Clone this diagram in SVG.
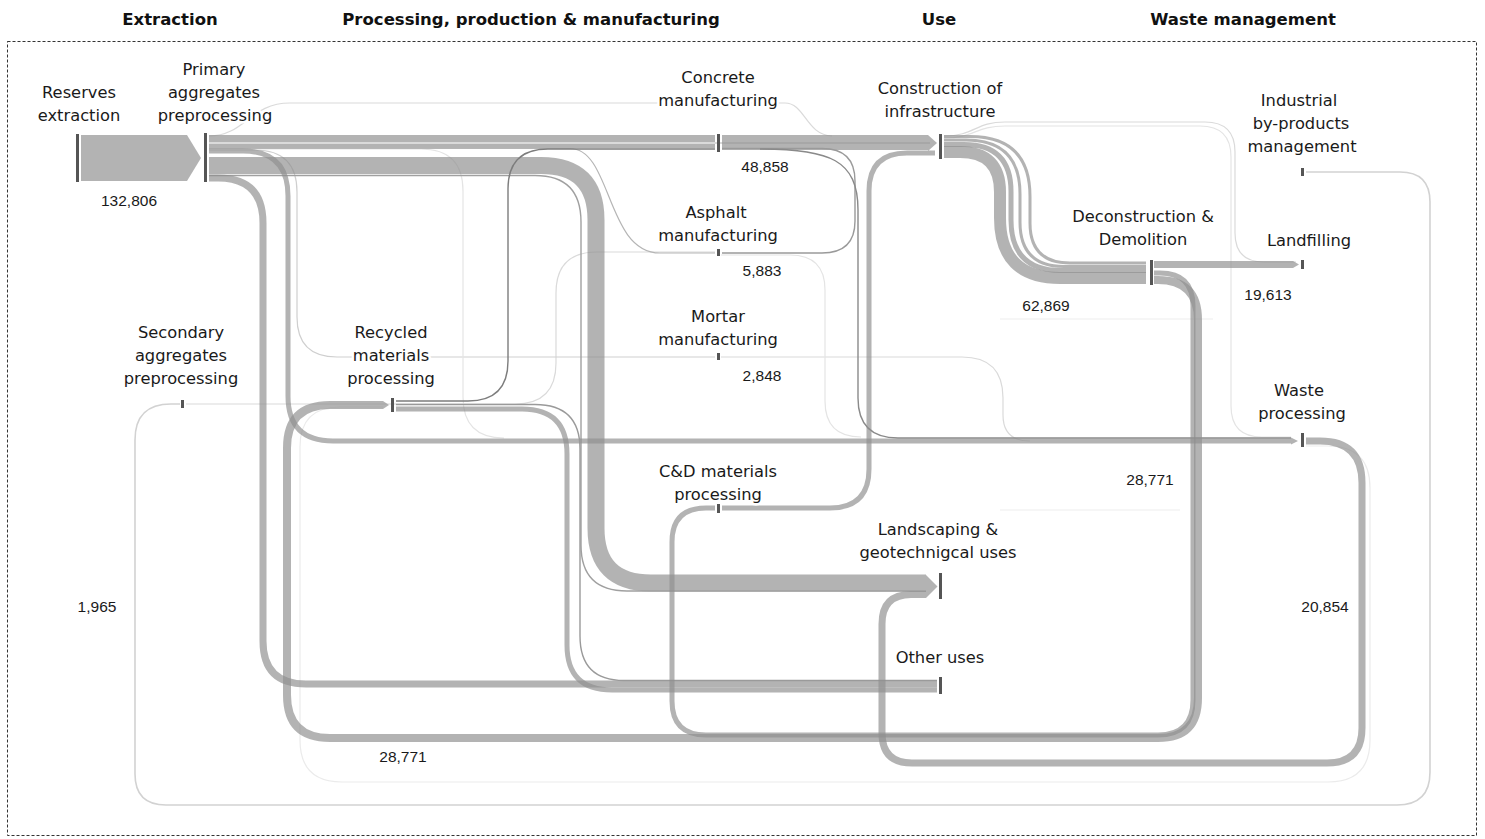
<svg xmlns="http://www.w3.org/2000/svg" width="1485" height="839" viewBox="0 0 1485 839">
<style>
.band{fill:none;stroke:#8f8f8f;stroke-opacity:0.68;stroke-linecap:butt}
.tip{fill:#8f8f8f;fill-opacity:0.68}
.thin{fill:none;stroke:#8c8c8c;stroke-width:1.4}
.mid{fill:none;stroke:#b5b5b5;stroke-width:1.2}
.faint{fill:none;stroke:#dadada;stroke-width:1.2}
.bar{fill:#555}
.lbl{font-family:"DejaVu Sans",Verdana,sans-serif;font-size:16.3px;fill:#1a1a1a;text-anchor:middle;stroke:#fff;stroke-width:5;stroke-linejoin:round;paint-order:stroke}
.num{font-family:"Liberation Sans",Arial,sans-serif;font-size:15.5px;fill:#1a1a1a;text-anchor:middle;stroke:#fff;stroke-width:3;paint-order:stroke}
.hdr{font-family:"DejaVu Sans",Verdana,sans-serif;font-weight:bold;font-size:16.5px;fill:#111;text-anchor:middle}
</style>
<rect width="1485" height="839" fill="#fff"/>
<g id="headers">
<text class="hdr" x="170" y="25">Extraction</text>
<text class="hdr" x="531" y="25">Processing, production &amp; manufacturing</text>
<text class="hdr" x="939" y="25">Use</text>
<text class="hdr" x="1243" y="25">Waste management</text>
</g>
<rect id="frame" x="7.5" y="41.5" width="1469" height="794" fill="none" stroke="#333" stroke-width="1" stroke-dasharray="3,2"/>
<g id="connectors">
<!-- faint flows -->
<path class="faint" d="M1306,172 H1400 Q1430,172 1430,202 V772 Q1430,805 1397,805 H166 Q135,805 135,774 V440 Q135,404 171,404 H180" style="stroke:#d2d2d2;stroke-width:1.6"/>
<path class="faint" d="M209,136 C245,136 250,103 290,103 H785 C805,103 806,135 832,136"/>
<path class="faint" d="M944,136 C975,136 975,122 1005,122 H1205 Q1235,122 1235,152 V233 Q1235,262 1264,262 H1296"/>
<path class="faint" d="M944,138 C975,138 975,126 1005,126 H1200 Q1231,126 1231,157 V406 Q1231,437 1262,437 H1291" style="stroke:#e4e4e4"/>
<path class="faint" d="M1306,446 H1328 Q1370,446 1370,488 V740 Q1370,782 1328,782 H342 Q300,782 300,740 V447 Q300,407 340,407 H383" style="stroke:#ebebeb"/>
<path class="faint" d="M186,404 H515 Q556,404 556,363 V293 Q556,252 597,252 H715"/>
<path class="faint" d="M209,150 H255 Q297,150 297,192 V317 Q297,357 337,357 H715" style="stroke:#cfcfcf"/>
<path class="faint" d="M721,357 H962 Q1003,357 1003,398 V415 Q1003,441 1030,441"/>
<path class="faint" d="M721,255 H790 Q825,255 825,290 V401 Q825,437 861,437" style="stroke:#e4e4e4"/>
<path class="faint" d="M209,149 H421 Q463,149 463,191 V397 Q463,438 504,438" style="stroke:#e4e4e4"/>
<path class="faint" d="M1000,319 H1213" style="stroke:#ededed"/>
<path class="faint" d="M1000,510 H1180" style="stroke:#ededed"/>
<!-- main flows -->
<polygon class="tip" points="81,135 187,135 201,158 187,181 81,181"/>
<path class="band" stroke-width="7" d="M209,138.5 H715"/>
<path class="band" stroke-width="4" d="M209,146 H715"/>
<path class="mid" d="M209,143 H930"/>
<path class="mid" d="M209,148.5 H570 C612,148.5 606,253 660,253 H715"/>
<path class="band" stroke-width="15" d="M722,142.5 H928"/>
<polygon class="tip" points="928,135 937,143 928,151"/>
<path class="band" stroke-width="17" d="M209,165.5 H541 Q596,165.5 596,220 V528 Q596,583 651,583 H926"/>
<path class="thin" stroke-width="1.5" d="M209,175.5 H535 Q581,175.5 581,222 V545 Q581,591 627,591 H926" style="stroke:#a0a0a0"/>
<path class="band" stroke-width="5" d="M209,151 H243 Q288,151 288,196 V396 Q288,441 333,441 H1291"/>
<polygon class="tip" points="1291,437.5 1298,441 1291,444.5"/>
<path class="band" stroke-width="7" d="M209,178 H218 Q263,178 263,223 V641 Q263,684 306,684 H937"/>
<path class="thin" d="M396,401 H468 Q508,401 508,361 V189 Q508,149 548,149 H715" style="stroke:#7d7d7d"/>
<path class="band" stroke-width="5" d="M396,409 H522 Q567,409 567,454 V645 Q567,690 612,690 H937"/>
<path class="thin" stroke-width="1.5" d="M396,404.5 H535 Q580,404.5 580,449 V636 Q580,680.5 624,680.5 H937" style="stroke:#9a9a9a"/>
<path class="thin" d="M722,148.5 H822 Q855,148.5 855,181 V221 Q855,253 822,253 H722" style="stroke:#9a9a9a"/>
<path class="thin" stroke-width="2" d="M760,149 C830,149 858,160 858,210 V398 Q858,438 898,438 H1291" style="stroke:#8a8a8a"/>
<path class="band" stroke-width="5" d="M722,508 H830 Q869,508 869,469 V191 Q869,153 907,153 H935"/>
<path class="band" stroke-width="3" d="M944,136.5 H970 Q1030,136.5 1030,196.5 V223 Q1030,263 1070,263 H1146"/>
<path class="band" stroke-width="3" d="M944,140 H966 Q1020,140 1020,194 V222 Q1020,266.5 1064,266.5 H1146"/>
<path class="band" stroke-width="5" d="M944,144.5 H964 Q1011,144.5 1011,191.5 V220 Q1011,270.5 1061,270.5 H1146"/>
<path class="band" stroke-width="12" d="M944,152 H960 Q1000,152 1000,192 V218 Q1000,278 1060,278 H1146"/>
<path class="band" stroke-width="7" d="M1154,264.5 H1293"/>
<polygon class="tip" points="1293,261 1299,264.5 1293,268"/>
<path class="band" stroke-width="5" d="M1154,273 H1160 Q1193,273 1193,306 V700 Q1193,735 1158,735 H706 Q672,735 672,701 V542 Q672,508 706,508 H715"/>
<path class="band" stroke-width="8" d="M1154,280 H1158 Q1198,280 1198,320 V698 Q1198,738 1158,738 H330 Q287,738 287,695 V448 Q287,405 330,405 H383"/>
<polygon class="tip" points="383,401 389,405 383,409"/>
<path class="band" stroke-width="7" d="M1306,441 H1320 Q1362,441 1362,483 V728 Q1362,763 1327,763 H912 Q882,763 882,733 V624 Q882,594.5 911,594.5 H926"/>
<polygon class="tip" points="926,575 937.5,586.5 926,598"/>
</g>
<g id="node-reserves"><rect class="bar" x="76" y="134" width="3" height="48"/><text class="lbl" x="79" y="98">Reserves</text><text class="lbl" x="79" y="121">extraction</text><text class="num" x="129" y="206">132,806</text></g>
<g id="node-primary"><rect class="bar" x="204" y="133" width="3" height="49"/><text class="lbl" x="214" y="75">Primary</text><text class="lbl" x="214" y="98">aggregates</text><text class="lbl" x="215" y="121">preprocessing</text></g>
<g id="node-concrete"><rect class="bar" x="717" y="134" width="3" height="18"/><text class="lbl" x="718" y="83">Concrete</text><text class="lbl" x="718" y="106">manufacturing</text><text class="num" x="765" y="172">48,858</text></g>
<g id="node-asphalt"><rect class="bar" x="717" y="249" width="3" height="7"/><text class="lbl" x="716" y="218">Asphalt</text><text class="lbl" x="718" y="241">manufacturing</text><text class="num" x="762" y="276">5,883</text></g>
<g id="node-mortar"><rect class="bar" x="717" y="353" width="3" height="7"/><text class="lbl" x="718" y="322">Mortar</text><text class="lbl" x="718" y="345">manufacturing</text><text class="num" x="762" y="381">2,848</text></g>
<g id="node-cd"><rect class="bar" x="717" y="504" width="3" height="9"/><text class="lbl" x="718" y="477">C&amp;D materials</text><text class="lbl" x="718" y="500">processing</text></g>
<g id="node-construction"><rect class="bar" x="939" y="134" width="3" height="25"/><text class="lbl" x="940" y="94">Construction of</text><text class="lbl" x="940" y="117">infrastructure</text></g>
<g id="node-landscaping"><rect class="bar" x="939" y="573" width="3" height="26"/><text class="lbl" x="938" y="535">Landscaping &amp;</text><text class="lbl" x="938" y="558">geotechnigcal uses</text></g>
<g id="node-other"><rect class="bar" x="939" y="677" width="3" height="17"/><text class="lbl" x="940" y="663">Other uses</text></g>
<g id="node-deconstruction"><rect class="bar" x="1150" y="260" width="3" height="25"/><text class="lbl" x="1143" y="222">Deconstruction &amp;</text><text class="lbl" x="1143" y="245">Demolition</text><text class="num" x="1046" y="311">62,869</text></g>
<g id="node-industrial"><rect class="bar" x="1301" y="168" width="3" height="8"/><text class="lbl" x="1299" y="106">Industrial</text><text class="lbl" x="1301" y="129">by-products</text><text class="lbl" x="1302" y="152">management</text></g>
<g id="node-landfilling"><rect class="bar" x="1301" y="260" width="3" height="9"/><text class="lbl" x="1309" y="246">Landfilling</text><text class="num" x="1268" y="300">19,613</text></g>
<g id="node-waste"><rect class="bar" x="1301" y="433" width="3" height="14"/><text class="lbl" x="1299" y="396">Waste</text><text class="lbl" x="1302" y="419">processing</text><text class="num" x="1150" y="485">28,771</text><text class="num" x="1325" y="612">20,854</text></g>
<g id="node-secondary"><rect class="bar" x="181" y="400" width="3" height="8"/><text class="lbl" x="181" y="338">Secondary</text><text class="lbl" x="181" y="361">aggregates</text><text class="lbl" x="181" y="384">preprocessing</text><text class="num" x="97" y="612">1,965</text></g>
<g id="node-recycled"><rect class="bar" x="391" y="398" width="3" height="14"/><text class="lbl" x="391" y="338">Recycled</text><text class="lbl" x="391" y="361">materials</text><text class="lbl" x="391" y="384">processing</text><text class="num" x="403" y="762">28,771</text></g>
</svg>
